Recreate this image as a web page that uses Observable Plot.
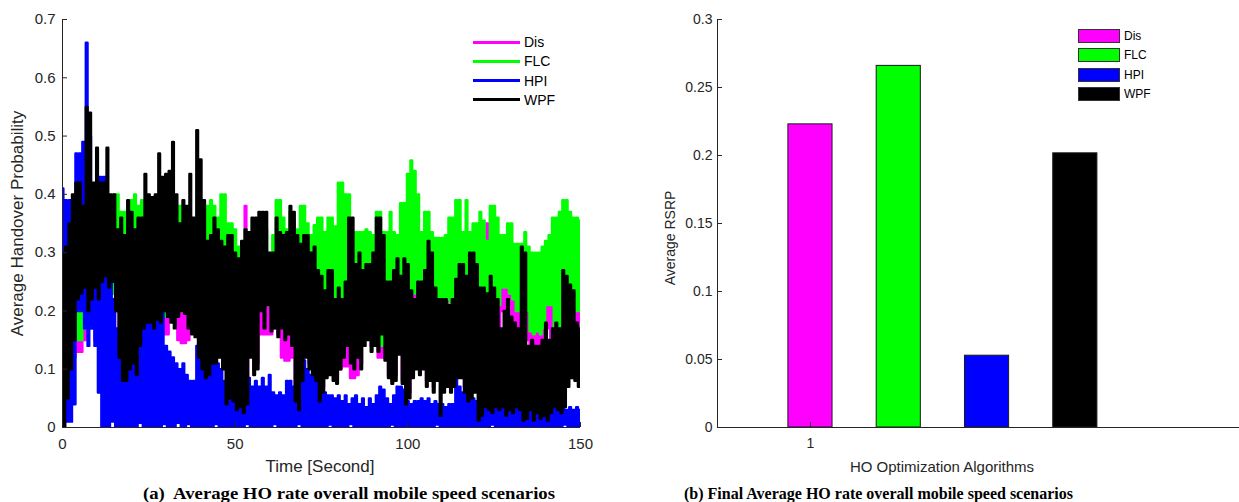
<!DOCTYPE html>
<html><head><meta charset="utf-8">
<script src="https://cdn.jsdelivr.net/npm/d3@7"></script>
<script src="https://cdn.jsdelivr.net/npm/@observablehq/plot@0.6"></script>
<style>
html,body{margin:0;padding:0;background:#fff;}
#root{position:relative;width:1239px;height:502px;overflow:hidden;background:#fff;}
.txt{position:absolute;white-space:pre;font-family:"Liberation Sans",Arial,sans-serif;color:#262626;line-height:1;}
</style></head><body><div id="root"></div>
<script>
// ---------- DATA ----------
const seriesNames = ["Dis", "FLC", "HPI", "WPF"];
const seriesColors = ["#ff00ff", "#00ff00", "#0000ff", "#000000"];
// per-second upper (hi) and lower (lo) extents of each noisy series, t = 0..150 s
const disHi = [
0.15,0.2,0.25,0.28,0.3,0.32,0.33,0.35,0.36,0.35,
0.34,0.35,0.35,0.34,0.33,0.34,0.33,0.32,0.32,0.31,
0.33,0.33,0.31,0.3,0.3,0.3,0.31,0.3,0.31,0.3,
0.3,0.29,0.3,0.31,0.3,0.3,0.29,0.3,0.3,0.31,
0.32,0.31,0.3,0.31,0.3,0.31,0.3,0.3,0.3,0.3,
0.3,0.28,0.28,0.38,0.3,0.3,0.31,0.3,0.3,0.29,
0.28,0.3,0.31,0.3,0.3,0.29,0.3,0.3,0.29,0.3,
0.3,0.29,0.28,0.3,0.29,0.3,0.28,0.29,0.28,0.28,
0.3,0.3,0.29,0.28,0.28,0.27,0.28,0.28,0.27,0.28,
0.28,0.3,0.29,0.28,0.28,0.29,0.28,0.27,0.3,0.3,
0.3,0.31,0.3,0.29,0.28,0.3,0.29,0.28,0.27,0.27,
0.27,0.28,0.3,0.29,0.3,0.31,0.29,0.3,0.28,0.29,
0.29,0.3,0.3,0.35,0.34,0.3,0.29,0.3,0.29,0.28,
0.28,0.27,0.27,0.28,0.28,0.27,0.26,0.27,0.27,0.27,
0.28,0.28,0.29,0.3,0.3,0.31,0.31,0.3,0.3,0.3,
0.29];
const disLo = [
0.02,0.06,0.1,0.12,0.13,0.13,0.15,0.17,0.17,0.15,
0.2,0.24,0.24,0.22,0.23,0.2,0.14,0.1,0.1,0.12,
0.17,0.17,0.17,0.18,0.19,0.19,0.18,0.19,0.18,0.16,
0.16,0.19,0.18,0.15,0.145,0.145,0.15,0.17,0.16,0.13,
0.11,0.1,0.1,0.12,0.14,0.14,0.14,0.1,0.08,0.07,
0.06,0.21,0.06,0.07,0.13,0.1,0.11,0.16,0.16,0.16,
0.16,0.17,0.16,0.12,0.115,0.115,0.12,0.06,0.05,0.09,
0.13,0.11,0.1,0.09,0.06,0.07,0.09,0.1,0.09,0.085,
0.1,0.105,0.105,0.085,0.085,0.09,0.11,0.15,0.16,0.14,
0.15,0.12,0.12,0.12,0.09,0.08,0.09,0.13,0.08,0.05,
0.06,0.09,0.11,0.1,0.11,0.08,0.09,0.07,0.09,0.165,
0.165,0.165,0.07,0.08,0.09,0.09,0.07,0.2,0.2,0.07,
0.2,0.2,0.05,0.04,0.04,0.05,0.04,0.2,0.16,0.19,
0.15,0.15,0.15,0.15,0.15,0.14,0.14,0.14,0.14,0.14,
0.17,0.15,0.17,0.05,0.04,0.05,0.2,0.2,0.09,0.08,
0.09];
const flcHi = [
0.2,0.25,0.3,0.33,0.35,0.36,0.36,0.38,0.4,0.38,
0.38,0.38,0.38,0.38,0.37,0.40,0.40,0.37,0.37,0.35,
0.39,0.40,0.38,0.39,0.34,0.33,0.33,0.34,0.33,0.35,
0.33,0.32,0.37,0.38,0.38,0.34,0.33,0.33,0.33,0.35,
0.38,0.38,0.38,0.39,0.38,0.36,0.40,0.40,0.35,0.35,
0.34,0.31,0.30,0.34,0.32,0.33,0.34,0.33,0.35,0.34,
0.30,0.33,0.39,0.39,0.36,0.34,0.37,0.35,0.34,0.38,
0.38,0.35,0.33,0.347,0.36,0.36,0.335,0.36,0.36,0.345,
0.42,0.42,0.40,0.40,0.335,0.335,0.335,0.335,0.34,0.335,
0.33,0.37,0.37,0.335,0.335,0.37,0.335,0.33,0.385,0.385,
0.435,0.458,0.44,0.40,0.335,0.37,0.37,0.335,0.325,0.325,
0.325,0.33,0.36,0.36,0.39,0.39,0.335,0.39,0.335,0.35,
0.35,0.37,0.355,0.32,0.38,0.38,0.36,0.33,0.33,0.35,
0.35,0.315,0.315,0.315,0.335,0.31,0.30,0.30,0.30,0.31,
0.32,0.33,0.36,0.36,0.37,0.39,0.39,0.37,0.36,0.36,
0.355];
const flcLo = [
0.05,0.1,0.12,0.15,0.15,0.15,0.17,0.18,0.17,0.18,
0.2,0.25,0.24,0.22,0.23,0.2,0.26,0.25,0.27,0.22,
0.2,0.21,0.23,0.25,0.22,0.2,0.21,0.2,0.22,0.19,
0.2,0.19,0.2,0.21,0.2,0.22,0.2,0.21,0.19,0.22,
0.2,0.21,0.22,0.2,0.21,0.22,0.21,0.2,0.23,0.25,
0.24,0.22,0.25,0.24,0.22,0.21,0.2,0.21,0.22,0.21,
0.2,0.21,0.22,0.2,0.17,0.2,0.16,0.2,0.21,0.2,
0.22,0.21,0.2,0.22,0.21,0.22,0.2,0.22,0.22,0.21,
0.2,0.21,0.2,0.22,0.2,0.21,0.2,0.22,0.23,0.21,
0.2,0.18,0.14,0.21,0.23,0.23,0.22,0.21,0.2,0.2,
0.22,0.23,0.23,0.22,0.24,0.22,0.21,0.22,0.21,0.195,
0.2,0.22,0.21,0.2,0.22,0.21,0.22,0.21,0.23,0.22,
0.2,0.195,0.2,0.21,0.2,0.22,0.21,0.24,0.24,0.23,
0.22,0.2,0.2,0.2,0.2,0.165,0.16,0.165,0.16,0.17,
0.21,0.21,0.17,0.165,0.17,0.165,0.2,0.2,0.2,0.2,
0.2];
const hpiHi = [
0.41,0.39,0.39,0.38,0.47,0.47,0.49,0.66,0.50,0.40,
0.38,0.43,0.43,0.30,0.26,0.22,0.17,0.14,0.13,0.14,
0.11,0.12,0.15,0.17,0.18,0.19,0.18,0.19,0.20,0.21,
0.14,0.13,0.12,0.11,0.10,0.11,0.09,0.08,0.08,0.14,
0.15,0.12,0.13,0.15,0.12,0.11,0.10,0.08,0.07,0.06,
0.05,0.05,0.06,0.08,0.085,0.07,0.08,0.07,0.085,0.07,
0.09,0.06,0.055,0.06,0.055,0.08,0.08,0.07,0.06,0.10,
0.115,0.10,0.09,0.09,0.085,0.085,0.06,0.055,0.055,0.05,
0.055,0.045,0.055,0.04,0.05,0.055,0.04,0.05,0.035,0.05,
0.04,0.055,0.07,0.065,0.05,0.04,0.055,0.07,0.07,0.065,
0.045,0.04,0.045,0.045,0.05,0.045,0.05,0.04,0.045,0.04,
0.04,0.035,0.04,0.04,0.09,0.07,0.06,0.065,0.06,0.05,
0.045,0.04,0.05,0.045,0.04,0.045,0.04,0.045,0.04,0.045,
0.04,0.045,0.04,0.058,0.055,0.04,0.045,0.04,0.04,0.045,
0.04,0.04,0.045,0.04,0.04,0.035,0.03,0.035,0.03,0.035,
0.03];
const hpiLo = [
0,0.01,0.01,0.04,0.2,0.2,0.17,0.14,0.17,0.14,
0.06,0,0,0,0.01,0,0,0,0,0,
0,0,0.008,0,0,0,0,0,0,0.006,
0,0,0,0.008,0,0,0.006,0,0,0,
0,0,0,0,0.006,0,0,0,0,0,
0,0,0,0.006,0,0,0,0,0,0,
0,0.006,0,0,0,0,0,0,0.006,0,
0,0,0,0,0,0,0,0.005,0,0,
0,0,0,0.006,0,0,0,0,0,0,
0,0,0,0,0,0.005,0,0,0,0,
0,0,0,0,0,0,0,0,0.005,0,
0,0,0,0,0,0,0,0,0,0,
0,0,0,0,0.005,0,0,0,0,0,
0,0,0,0,0,0,0,0,0,0,
0,0,0,0,0,0.005,0,0,0,0,
0];
const wpfHi = [
0.30,0.31,0.35,0.40,0.42,0.42,0.38,0.55,0.54,0.42,
0.48,0.42,0.42,0.48,0.40,0.40,0.34,0.36,0.33,0.39,
0.37,0.34,0.36,0.36,0.435,0.40,0.395,0.40,0.47,0.43,
0.435,0.44,0.49,0.40,0.35,0.39,0.38,0.435,0.36,0.51,
0.46,0.39,0.32,0.33,0.36,0.34,0.32,0.31,0.33,0.33,
0.30,0.29,0.32,0.34,0.335,0.36,0.36,0.37,0.37,0.37,
0.30,0.30,0.36,0.335,0.33,0.335,0.38,0.37,0.33,0.315,
0.33,0.33,0.30,0.31,0.27,0.26,0.235,0.27,0.27,0.22,
0.24,0.22,0.25,0.36,0.36,0.28,0.30,0.27,0.28,0.28,
0.30,0.36,0.36,0.33,0.25,0.25,0.27,0.29,0.26,0.29,
0.28,0.235,0.22,0.25,0.25,0.27,0.32,0.30,0.24,0.22,
0.22,0.22,0.21,0.22,0.255,0.28,0.28,0.26,0.30,0.30,
0.28,0.24,0.24,0.23,0.26,0.24,0.22,0.17,0.20,0.22,
0.19,0.18,0.17,0.31,0.30,0.14,0.15,0.14,0.14,0.15,
0.18,0.15,0.17,0.18,0.17,0.27,0.26,0.245,0.235,0.18,
0.17];
const wpfLo = [
0,0.05,0.1,0.15,0.22,0.23,0.24,0.2,0.22,0.24,
0.22,0.25,0.26,0.24,0.25,0.2,0.12,0.08,0.08,0.1,
0.11,0.09,0.14,0.17,0.18,0.18,0.17,0.185,0.18,0.2,
0.19,0.18,0.17,0.19,0.2,0.195,0.17,0.16,0.155,0.12,
0.1,0.085,0.09,0.11,0.11,0.12,0.1,0.04,0.05,0.045,
0.03,0.035,0.025,0.04,0.12,0.09,0.1,0.2,0.17,0.21,
0.165,0.17,0.155,0.17,0.15,0.16,0.14,0.045,0.03,0.08,
0.12,0.1,0.09,0.08,0.045,0.06,0.085,0.09,0.08,0.075,
0.1,0.12,0.14,0.11,0.1,0.12,0.1,0.14,0.15,0.13,
0.14,0.13,0.16,0.115,0.085,0.075,0.08,0.125,0.075,0.04,
0.05,0.085,0.1,0.09,0.1,0.07,0.08,0.06,0.08,0.02,
0.06,0.07,0.06,0.07,0.085,0.085,0.06,0.045,0.05,0.06,
0.012,0.02,0.035,0.03,0.025,0.035,0.03,0.035,0.02,0.03,
0.025,0.035,0.03,0.012,0.015,0.03,0.012,0.025,0.015,0.02,
0.012,0.025,0.035,0.03,0.025,0.035,0.07,0.085,0.08,0.07,
0.085];
const leftXTicks = [0, 50, 100, 150];
const leftYTicks = [0, 0.1, 0.2, 0.3, 0.4, 0.5, 0.6, 0.7];

// right panel: final averages
const barNames = ["Dis", "FLC", "HPI", "WPF"];
const barValues = [0.2229, 0.2659, 0.0528, 0.2016];
const barColors = ["#ff00ff", "#00ff00", "#0000ff", "#000000"];
const rightXTicks = [1];
const rightYTicks = [0, 0.05, 0.1, 0.15, 0.2, 0.25, 0.3];

// ---------- DRAW ----------
const root = document.getElementById("root");
const AX = "#262626";
const FONT = "'Liberation Sans', Arial, sans-serif";
const fmt = d => String(d);

function envelope(hi, lo) {
  const pts = [];
  hi.forEach((h, i) => {
    pts.push({t: i, v: h});
    if (i < hi.length - 1) pts.push({t: i + 0.5, v: lo[i]});
  });
  return pts;
}
const his = [disHi, flcHi, hpiHi, wpfHi];
const los = [disLo, flcLo, hpiLo, wpfLo];

const L = {w: 620, h: 480, ml: 62, mr: 40, mt: 19, mb: 53};
const lpw = L.w - L.ml - L.mr, lph = L.h - L.mt - L.mb;

const leftPlot = Plot.plot({
  width: L.w, height: L.h,
  marginLeft: L.ml, marginRight: L.mr, marginTop: L.mt, marginBottom: L.mb,
  style: {fontFamily: FONT, fontSize: "15px", color: AX, background: "transparent", overflow: "visible", maxWidth: "none"},
  x: {domain: [0, 150]},
  y: {domain: [0, 0.7]},
  marks: [
    ...seriesNames.map((name, k) => Plot.line(envelope(his[k], los[k]), {
      x: "t", y: "v", curve: "step", stroke: seriesColors[k], strokeWidth: 2.4, clip: true
    })),
    Plot.ruleX([0], {stroke: AX}),
    Plot.ruleY([0], {stroke: AX}),
    Plot.tickY(leftYTicks, {y: d => d, insetRight: lpw - 5, stroke: AX}),
    Plot.tickX(leftXTicks, {x: d => d, insetTop: lph - 5, stroke: AX}),
    Plot.axisY({ticks: leftYTicks, tickFormat: fmt, tickSize: 0, tickPadding: 7, label: null, fontSize: 15}),
    Plot.axisX({ticks: leftXTicks, tickFormat: fmt, tickSize: 0, tickPadding: 11, label: null, fontSize: 15})
  ]
});
leftPlot.style.position = "absolute";
leftPlot.style.left = "0px";
leftPlot.style.top = "0px";
root.appendChild(leftPlot);

const R = {w: 640, h: 480, ml: 77, mr: 18, mt: 19, mb: 53};
const rpw = R.w - R.ml - R.mr, rph = R.h - R.mt - R.mb;
const rxDomain = [-0.053, 6.12];
const barRows = barNames.map((name, i) => ({name, value: barValues[i], pos: i + 1}));

const rightPlot = Plot.plot({
  width: R.w, height: R.h,
  marginLeft: R.ml, marginRight: R.mr, marginTop: R.mt, marginBottom: R.mb,
  style: {fontFamily: FONT, fontSize: "14px", color: AX, background: "transparent", overflow: "visible", maxWidth: "none"},
  x: {domain: rxDomain},
  y: {domain: [0, 0.3]},
  color: {domain: barNames, range: barColors},
  marks: [
    Plot.rect(barRows, {x1: d => d.pos - 0.25, x2: d => d.pos + 0.25, y1: d => 0, y2: "value", fill: "name", stroke: "#1a1a1a", strokeWidth: 1}),
    Plot.ruleX([rxDomain[0]], {stroke: AX}),
    Plot.ruleY([0], {stroke: AX}),
    Plot.tickY(rightYTicks, {y: d => d, insetRight: rpw - 5, stroke: AX}),
    Plot.tickX(rightXTicks, {x: d => d, insetTop: rph - 5, stroke: AX}),
    Plot.axisY({ticks: rightYTicks, tickFormat: fmt, tickSize: 0, tickPadding: 5, label: null, fontSize: 14}),
    Plot.axisX({ticks: rightXTicks, tickFormat: fmt, tickSize: 0, tickPadding: 11, label: null, fontSize: 14})
  ]
});
rightPlot.style.position = "absolute";
rightPlot.style.left = "640px";
rightPlot.style.top = "0px";
root.appendChild(rightPlot);

// ---------- TEXT / LEGENDS ----------
function txt(text, cx, cy, size, opts = {}) {
  const d = document.createElement("div");
  d.className = "txt";
  d.textContent = text;
  d.style.fontSize = size + "px";
  if (opts.font) d.style.fontFamily = opts.font;
  if (opts.weight) d.style.fontWeight = opts.weight;
  if (opts.color) d.style.color = opts.color;
  root.appendChild(d);
  const r = d.getBoundingClientRect();
  const sx = opts.fitWidth ? opts.fitWidth / r.width : 1;
  if (opts.left !== undefined) {
    d.style.left = opts.left + "px";
    d.style.top = (cy - r.height / 2) + "px";
    d.style.transformOrigin = "0 50%";
    d.style.transform = `scaleX(${sx})`;
  } else {
    d.style.left = (cx - r.width / 2) + "px";
    d.style.top = (cy - r.height / 2) + "px";
    d.style.transform = `rotate(${opts.rot || 0}deg) scaleX(${sx})`;
  }
  return d;
}

txt("Average Handover Probability", 18, 223, 17, {rot: -90});
txt("Time [Second]", 320, 466, 17);
txt("Average RSRP", 670, 238, 14, {rot: -90});
txt("HO Optimization Algorithms", 942, 466, 15);

const SERIF = "'Liberation Serif', 'Times New Roman', serif";
txt("(a)  Average HO rate overall mobile speed scenarios", 0, 494, 16, {left: 143, font: SERIF, weight: "bold", color: "#000", fitWidth: 412});
txt("(b) Final Average HO rate overall mobile speed scenarios", 0, 494, 16, {left: 684, font: SERIF, weight: "bold", color: "#000", fitWidth: 389});

// left legend (lines)
seriesNames.forEach((name, k) => {
  const y = 42 + k * 19.3;
  const ln = document.createElement("div");
  ln.style.cssText = `position:absolute;left:473px;top:${y - 1.5}px;width:47px;height:3px;background:${seriesColors[k]};`;
  root.appendChild(ln);
  txt(name, 0, y, 14, {left: 524, color: "#000"});
});

// right legend (swatches)
barNames.forEach((name, k) => {
  const y = 29 + k * 19.4;
  const sw = document.createElement("div");
  sw.style.cssText = `position:absolute;left:1078px;top:${y}px;width:42px;height:14px;box-sizing:border-box;border:1px solid #333;background:${barColors[k]};`;
  root.appendChild(sw);
  txt(name, 0, y + 7, 12, {left: 1124, color: "#000"});
});
</script></body></html>
